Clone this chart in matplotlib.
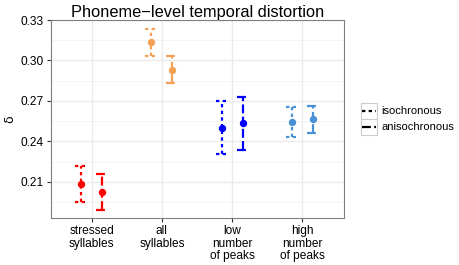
import matplotlib
matplotlib.use('Agg')
import matplotlib.pyplot as plt
from matplotlib.lines import Line2D
from matplotlib.patches import Rectangle
import numpy as np

plt.rcParams['font.family'] = ['Liberation Sans', 'DejaVu Sans']

categories = ['stressed\nsyllables', 'all\nsyllables', 'low\nnumber\nof peaks', 'high\nnumber\nof peaks']
colors = ['#ff0000', '#f4a055', '#0000ff', '#4a90d4']

iso_mean = [0.2083, 0.3134, 0.2497, 0.2542]
iso_lo   = [0.1949, 0.3034, 0.2306, 0.2434]
iso_hi   = [0.2219, 0.3235, 0.2700, 0.2653]

aniso_mean = [0.2026, 0.2931, 0.2535, 0.2567]
aniso_lo   = [0.1894, 0.2830, 0.2333, 0.2462]
aniso_hi   = [0.2160, 0.3030, 0.2732, 0.2662]

series = [
    ('isochronous',   iso_mean,   iso_lo,   iso_hi,   -0.15, (0, (1.5, 1.5))),
    ('anisochronous', aniso_mean, aniso_lo, aniso_hi,  0.15, (0, (4.0, 1.5))),
]

W, H = 459, 265
fig = plt.figure(figsize=(W / 100, H / 100), dpi=100)
ax = fig.add_axes([50.5 / W, 1 - 218.3 / H, (344 - 50.5) / W, (218.3 - 20) / H])

ax.set_facecolor('white')
for y in np.arange(0.195, 0.33, 0.03):
    ax.axhline(y, color='#f2f2f2', lw=0.5, zorder=0)
for y in [0.21, 0.24, 0.27, 0.30, 0.33]:
    ax.axhline(y, color='#ebebeb', lw=1.0, zorder=0)
xs = np.arange(1, len(categories) + 1)
for x in xs:
    ax.axvline(x, color='#ebebeb', lw=1.0, zorder=0)

cap = 0.085
for name, mean, lo, hi, off, ls in series:
    for i, x in enumerate(xs):
        c = colors[i]
        xp = x + off
        ax.plot([xp, xp], [lo[i], hi[i]], color=c, lw=1.6, ls=ls, dash_capstyle='butt')
        ax.plot([xp - cap, xp + cap], [hi[i], hi[i]], color=c, lw=1.6, ls=ls, dash_capstyle='butt')
        ax.plot([xp - cap, xp + cap], [lo[i], lo[i]], color=c, lw=1.6, ls=ls, dash_capstyle='butt')
        ax.plot(xp, mean[i], 'o', color=c, ms=4.3, zorder=5)

ax.set_xlim(0.414, 4.593)
ax.set_ylim(0.183, 0.33)
ax.set_yticks([0.21, 0.24, 0.27, 0.30, 0.33])
ax.set_yticklabels(['0.21', '0.24', '0.27', '0.30', '0.33'])
ax.set_xticks(xs)
ax.set_xticklabels(categories, linespacing=1.05)
ax.tick_params(axis='both', labelsize=8.6, colors='#333333', length=3, width=0.8, labelcolor='black')
ax.tick_params(axis='x', pad=2)
ax.tick_params(axis='y', pad=2)
for s in ax.spines.values():
    s.set_color('#7f7f7f')
    s.set_linewidth(0.8)
ax.set_ylabel('δ', fontsize=9, labelpad=3, family=['DejaVu Sans'])
ax.set_title('Phoneme\u2212level temporal distortion', fontsize=11.8, pad=2)

# legend drawn with ggplot-style grey key boxes
key_x0, key_x1 = 360.7, 377
key_tops = [103, 119]
key_h = 16
for (name, _, _, _, _, ls), top in zip(series, key_tops):
    fig.patches.append(Rectangle((key_x0 / W, 1 - (top + key_h) / H), (key_x1 - key_x0) / W, key_h / H,
                                 transform=fig.transFigure, facecolor='white', edgecolor='#cccccc', lw=0.8))
    yc = 1 - (top + key_h / 2) / H
    fig.add_artist(Line2D([(key_x0 + 1.5) / W, (key_x1 - 1.5) / W], [yc, yc], transform=fig.transFigure,
                          color='black', lw=1.6, ls=ls, dash_capstyle='butt'))
    fig.text(381 / W, yc, name, fontsize=8, va='center', ha='left')

fig.savefig('out.png', dpi=100)
